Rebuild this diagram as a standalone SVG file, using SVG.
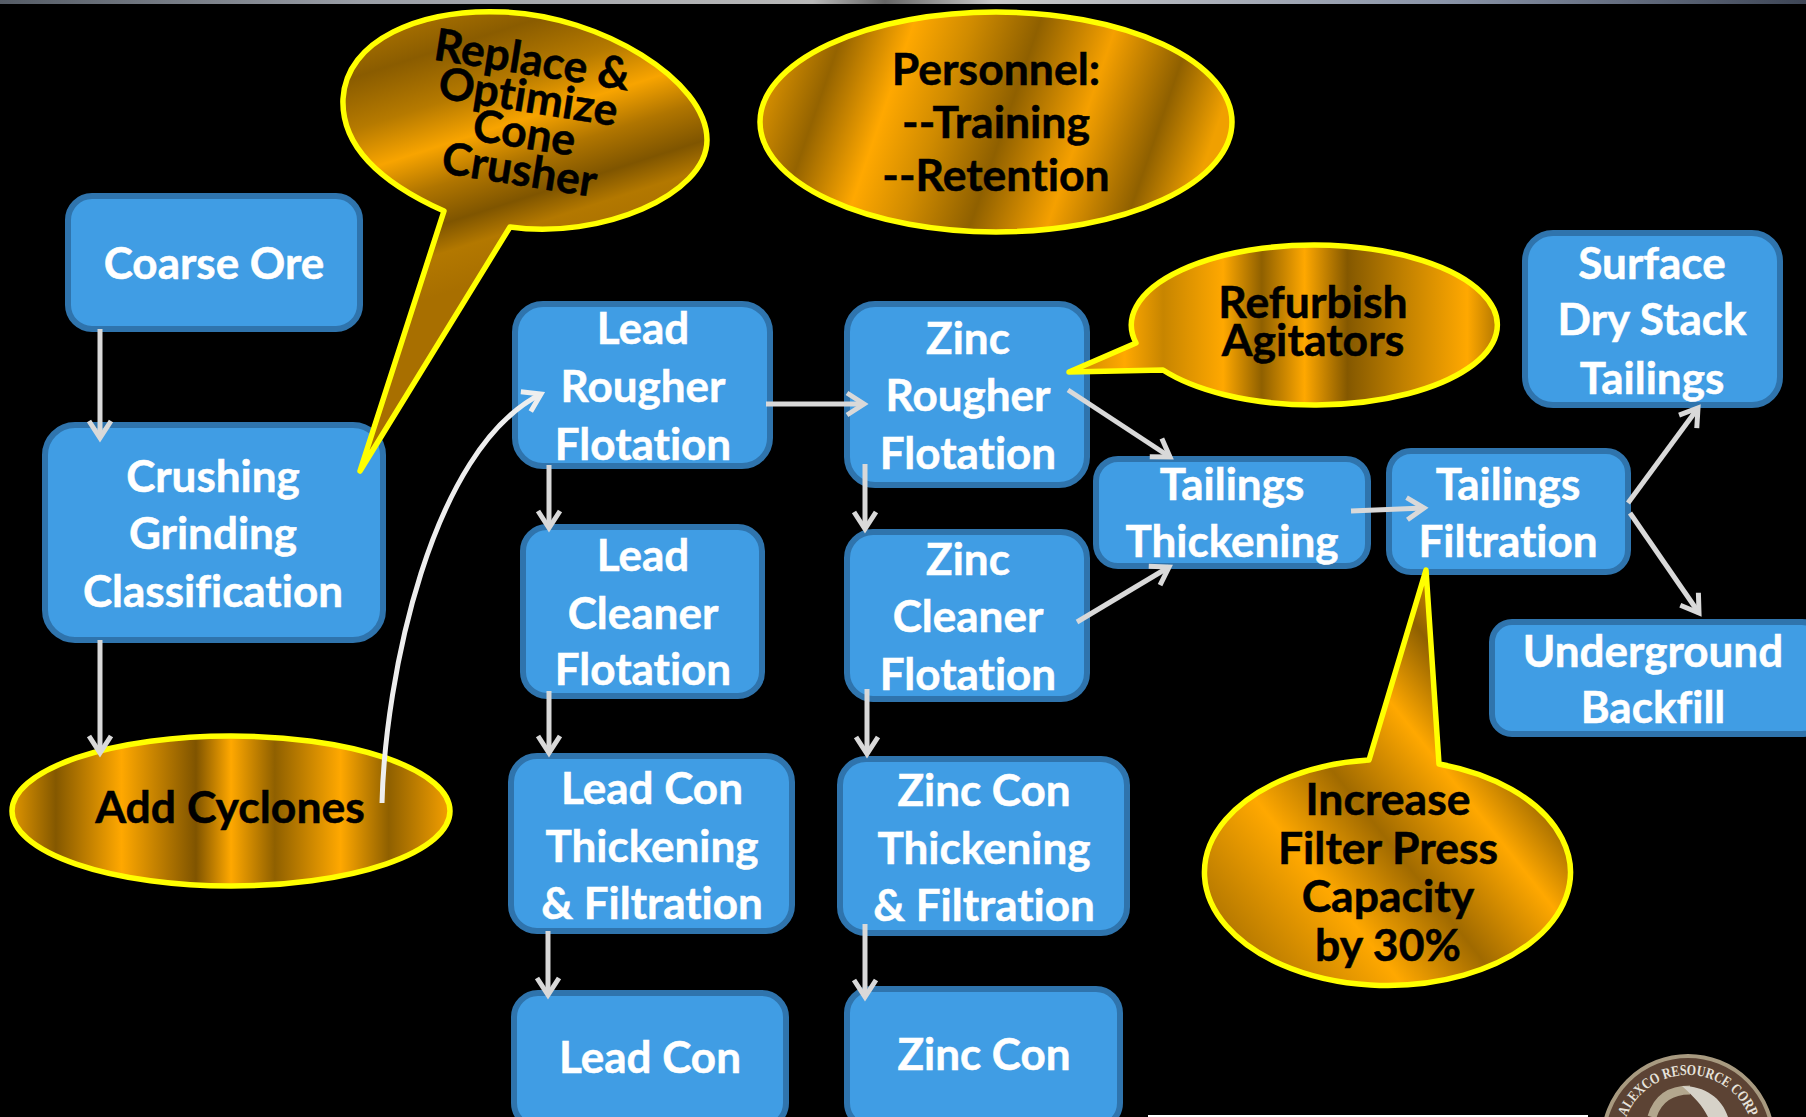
<svg xmlns="http://www.w3.org/2000/svg" width="1806" height="1117" viewBox="0 0 1806 1117">
<style>
.box{fill:#409de4;stroke:#2f74ad;stroke-width:6}
.t{font-family:Lato,"Open Sans","Liberation Sans",sans-serif;font-weight:700;font-size:44px;fill:#fff;stroke:#fff;stroke-width:.5;text-anchor:middle;font-variant-ligatures:none;transform:translateY(-1.5px)}
.b{font-family:Lato,"Open Sans","Liberation Sans",sans-serif;font-weight:700;font-size:44.5px;fill:#000;stroke:#000;stroke-width:.5;text-anchor:middle;font-variant-ligatures:none}
.cal{stroke:#ffff00;stroke-width:5.5;stroke-linejoin:round}
.c{fill:none;stroke:#d9d9d9;stroke-width:5;marker-end:url(#arr)}
.w{stroke:#eeeeee;marker-end:url(#arrw)}
</style>
<defs>
<marker id="arr" markerUnits="userSpaceOnUse" markerWidth="24" markerHeight="32" refX="19" refY="16" orient="auto" overflow="visible"><path d="M2,5 L19,16 L2,27" fill="none" stroke="#d9d9d9" stroke-width="5"/></marker>
<marker id="arrw" markerUnits="userSpaceOnUse" markerWidth="24" markerHeight="32" refX="19" refY="16" orient="auto" overflow="visible"><path d="M2,5 L19,16 L2,27" fill="none" stroke="#eeeeee" stroke-width="5"/></marker>
<linearGradient id="g1" gradientUnits="userSpaceOnUse" x1="470" y1="10" x2="550" y2="260"><stop offset="0" stop-color="#a06b00"/><stop offset=".11" stop-color="#8a5c00"/><stop offset=".3" stop-color="#b67a00"/><stop offset=".458" stop-color="#f8a400"/><stop offset=".6" stop-color="#b07500"/><stop offset=".745" stop-color="#7f5500"/><stop offset=".85" stop-color="#b37800"/><stop offset="1" stop-color="#a86f00"/></linearGradient>
<linearGradient id="g2" x1="0" y1="0.42" x2="1" y2="0.58"><stop offset="0" stop-color="#d89000"/><stop offset=".12" stop-color="#946300"/><stop offset=".26" stop-color="#ffa800"/><stop offset=".38" stop-color="#d08b00"/><stop offset=".52" stop-color="#8f6000"/><stop offset=".68" stop-color="#f5a000"/><stop offset=".84" stop-color="#8f6000"/><stop offset=".96" stop-color="#f0a000"/></linearGradient>
<linearGradient id="g3" x1="0" y1="0.5" x2="1" y2="0.5"><stop offset="0" stop-color="#c48400"/><stop offset=".13" stop-color="#ffa800"/><stop offset=".22" stop-color="#c78500"/><stop offset=".36" stop-color="#ffa800"/><stop offset=".45" stop-color="#8f6000"/><stop offset=".55" stop-color="#ffa800"/><stop offset=".65" stop-color="#845800"/><stop offset=".78" stop-color="#c08000"/><stop offset=".93" stop-color="#ffa800"/><stop offset="1" stop-color="#b37800"/></linearGradient>
<linearGradient id="g4" x1="0" y1="0.5" x2="1" y2="0.5"><stop offset="0" stop-color="#e09500"/><stop offset=".1" stop-color="#845800"/><stop offset=".25" stop-color="#ffa800"/><stop offset=".42" stop-color="#7f5400"/><stop offset=".5" stop-color="#ffa800"/><stop offset=".6" stop-color="#8f6000"/><stop offset=".75" stop-color="#ffa800"/><stop offset=".86" stop-color="#8f6000"/><stop offset="1" stop-color="#f5a000"/></linearGradient>
<linearGradient id="g5" x1="0" y1="1" x2="1" y2="0.1"><stop offset="0" stop-color="#8f6000"/><stop offset=".3" stop-color="#ffa800"/><stop offset=".45" stop-color="#a06a00"/><stop offset=".62" stop-color="#ffa800"/><stop offset=".75" stop-color="#8f6000"/><stop offset=".9" stop-color="#ffa800"/><stop offset="1" stop-color="#c08000"/></linearGradient>
<linearGradient id="top" x1="0" x2="1" y1="0" y2="0"><stop offset="0" stop-color="#555c66"/><stop offset=".2" stop-color="#9a9ea6"/><stop offset=".45" stop-color="#b8b8b8"/><stop offset=".49" stop-color="#666"/><stop offset=".55" stop-color="#c8c8c8"/><stop offset=".8" stop-color="#8a94a8"/><stop offset="1" stop-color="#3e4656"/></linearGradient>
<path id="logoArc" d="M1626,1163.6 A66,66 0 1 1 1750,1163.6"/>
</defs>
<rect width="1806" height="1117" fill="#000"/>
<rect width="1806" height="4" fill="url(#top)"/>
<rect x="1148" y="1115" width="440" height="2" fill="#fff"/>
<g id="logo">
<circle cx="1688" cy="1141" r="85" fill="#5c4334" stroke="#a89a80" stroke-width="4"/>
<path d="M1652,1117 Q1660,1090 1690,1090" fill="none" stroke="#b3a78e" stroke-width="9"/>
<path d="M1682,1086 C1705,1086 1722,1098 1728,1117 L1708,1117 C1702,1105 1695,1098 1682,1086Z" fill="#d6d2c8"/>
<text font-family="Liberation Serif,serif" font-weight="700" font-size="15" fill="#e8e4dc" text-anchor="middle"><textPath href="#logoArc" startOffset="50%" textLength="158" lengthAdjust="spacingAndGlyphs">ALEXCO RESOURCE CORP</textPath></text>
</g>
<g id="coarse-ore"><rect class="box" x="68" y="196" width="292" height="133" rx="24"/><text class="t" x="214" y="280">Coarse Ore</text></g>
<g id="crushing"><rect class="box" x="45" y="425" width="338" height="215" rx="30"/><text class="t" x="213" y="493">Crushing</text><text class="t" x="213" y="550">Grinding</text><text class="t" x="213" y="608">Classification</text></g>
<g id="lead-rougher"><rect class="box" x="515" y="304" width="255" height="162" rx="28"/><text class="t" x="643" y="345">Lead</text><text class="t" x="643" y="403">Rougher</text><text class="t" x="643" y="461">Flotation</text></g>
<g id="lead-cleaner"><rect class="box" x="523" y="527" width="239" height="169" rx="24"/><text class="t" x="643" y="572">Lead</text><text class="t" x="643" y="630">Cleaner</text><text class="t" x="643" y="686">Flotation</text></g>
<g id="lead-con-thick"><rect class="box" x="511" y="756" width="281" height="175" rx="26"/><text class="t" x="652" y="805">Lead Con</text><text class="t" x="652" y="863">Thickening</text><text class="t" x="652" y="920">&amp; Filtration</text></g>
<g id="lead-con"><rect class="box" x="514" y="993" width="272" height="134" rx="24"/><text class="t" x="650" y="1074">Lead Con</text></g>
<g id="zinc-rougher"><rect class="box" x="847" y="304" width="240" height="181" rx="28"/><text class="t" x="968" y="355">Zinc</text><text class="t" x="968" y="412">Rougher</text><text class="t" x="968" y="470">Flotation</text></g>
<g id="zinc-cleaner"><rect class="box" x="847" y="532" width="240" height="167" rx="26"/><text class="t" x="968" y="576">Zinc</text><text class="t" x="968" y="633">Cleaner</text><text class="t" x="968" y="691">Flotation</text></g>
<g id="zinc-con-thick"><rect class="box" x="840" y="759" width="287" height="174" rx="26"/><text class="t" x="984" y="807">Zinc Con</text><text class="t" x="984" y="865">Thickening</text><text class="t" x="984" y="922">&amp; Filtration</text></g>
<g id="zinc-con"><rect class="box" x="847" y="989" width="273" height="138" rx="24"/><text class="t" x="984" y="1071">Zinc Con</text></g>
<g id="tailings-thick"><rect class="box" x="1096" y="459" width="272" height="107" rx="22"/><text class="t" x="1232" y="501">Tailings</text><text class="t" x="1232" y="558">Thickening</text></g>
<g id="tailings-filt"><rect class="box" x="1389" y="451" width="239" height="121" rx="22"/><text class="t" x="1508" y="501">Tailings</text><text class="t" x="1508" y="558">Filtration</text></g>
<g id="surface"><rect class="box" x="1525" y="233" width="255" height="172" rx="28"/><text class="t" x="1652" y="280">Surface</text><text class="t" x="1652" y="336">Dry Stack</text><text class="t" x="1652" y="395">Tailings</text></g>
<g id="underground"><rect class="box" x="1492" y="622" width="330" height="112" rx="20"/><text class="t" x="1653" y="668">Underground</text><text class="t" x="1653" y="724">Backfill</text></g>
<g id="replace-callout"><path class="cal" fill="url(#g1)" d="M360,471L444,211C386,185 341,150 343,99C346,40 420,8 505,12C600,16 707,80 707,140C707,195 600,240 510,227Z"/><text class="b" transform="translate(530,75) rotate(9)">Replace &amp;</text><text class="b" transform="translate(526,112) rotate(9)">Optimize</text><text class="b" transform="translate(522,148) rotate(9)">Cone</text><text class="b" transform="translate(517,185) rotate(9)">Crusher</text></g>
<g id="personnel-callout"><ellipse class="cal" fill="url(#g2)" cx="996" cy="122" rx="236" ry="110"/><text class="b" x="996" y="85">Personnel:</text><text class="b" x="996" y="138">--Training</text><text class="b" x="996" y="191">--Retention</text></g>
<g id="refurbish-callout"><path class="cal" fill="url(#g3)" d="M1069,372L1136,343A183,80 0 1 1 1163,370Z"/><text class="b" x="1313" y="318">Refurbish</text><text class="b" x="1313" y="356">Agitators</text></g>
<g id="cyclones-callout"><ellipse class="cal" fill="url(#g4)" cx="231" cy="811" rx="219" ry="75"/><text class="b" x="230" y="823">Add Cyclones</text></g>
<g id="increase-callout"><path class="cal" fill="url(#g5)" d="M1426,570L1369,760A183,113 0 1 0 1439,764Z"/><text class="b" x="1388" y="815">Increase</text><text class="b" x="1388" y="864">Filter Press</text><text class="b" x="1388" y="912">Capacity</text><text class="b" x="1388" y="961">by 30%</text></g>
<g id="connectors">
<path class="c" d="M100,329V438"/>
<path class="c" d="M100,640V753"/>
<path class="c w" d="M382,803C385,680 430,450 541,394"/>
<path class="c" d="M766,404H864"/>
<path class="c" d="M549,465V528"/>
<path class="c" d="M549,691V753"/>
<path class="c" d="M548,931V995"/>
<path class="c" d="M865,464V529"/>
<path class="c" d="M867,689V754"/>
<path class="c" d="M865,924V997"/>
<path class="c" d="M1068,390L1170,457"/>
<path class="c" d="M1077,622L1169,567"/>
<path class="c" d="M1351,511L1424,508"/>
<path class="c" d="M1628,503L1698,408"/>
<path class="c" d="M1630,513L1699,613"/>
</g>
</svg>
